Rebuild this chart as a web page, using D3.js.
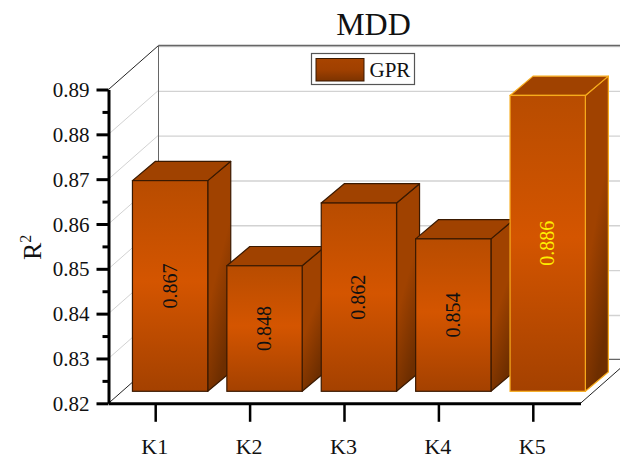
<!DOCTYPE html>
<html>
<head>
<meta charset="utf-8">
<script src="https://cdn.jsdelivr.net/npm/d3@7"></script>
<style>
  html, body { margin: 0; padding: 0; background: #fff; }
  svg { display: block; font-family: "Liberation Serif", serif; }
</style>
</head>
<body>
<svg id="chart" width="620" height="459"></svg>
<script>
// data
var categories = ["K1", "K2", "K3", "K4", "K5"];
var r2Values = [0.867, 0.848, 0.862, 0.854, 0.886];
var highlighted = ["K5"];
var majorTicks = [0.82, 0.83, 0.84, 0.85, 0.86, 0.87, 0.88, 0.89];
var minorTicks = [0.825, 0.835, 0.845, 0.855, 0.865, 0.875, 0.885];
var seriesName = "GPR";

var svg = d3.select("#chart");

var plotLeft = 108.5, plotRight = 580.5, plotBottom = 403.3, plotTop = 89.5;
var wallDx = 50, wallDy = -44;    // depth of the whole box
var barDx = 23, barDy = -19.3;    // depth of one bar
var barOffX = 14.4, barOffY = -12; // bars stand a bit inside the box
var barWidth = 75.3;

var x = d3.scaleBand().domain(categories).range([plotLeft, plotRight]);
var y = d3.scaleLinear().domain([0.82, 0.89]).range([plotBottom, plotTop]);

// gradients
var defs = svg.append("defs");

function gradient(id, x2, stops) {
  var g = defs.append("linearGradient").attr("id", id)
    .attr("x1", 0).attr("y1", 0).attr("x2", x2).attr("y2", 1);
  stops.forEach(function(s) {
    g.append("stop").attr("offset", s[0]).attr("stop-color", s[1]);
  });
}

gradient("front", 0, [[0, "#b84c00"], [0.48, "#d45500"], [1, "#a44100"]]);
gradient("side", 0.4, [[0, "#a04200"], [0.55, "#a04200"], [1, "#6e2e00"]]);
gradient("swatch", 0, [[0, "#a84400"], [0.5, "#a04000"], [1, "#7c3300"]]);

// walls and grid
var walls = svg.append("g");

majorTicks.forEach(function(t) {
  if (t === 0.82 || t === 0.89) return;
  walls.append("line")
    .attr("x1", plotLeft).attr("y1", y(t))
    .attr("x2", plotLeft + wallDx).attr("y2", y(t) + wallDy)
    .attr("stroke", "#d2d2d2").attr("stroke-width", 1);
});

walls.selectAll("line.back")
  .data(majorTicks.filter(function(t) { return t !== 0.82; }))
  .enter().append("line")
  .attr("class", "back")
  .attr("x1", plotLeft + wallDx).attr("y1", function(d) { return y(d) + wallDy + 1; })
  .attr("x2", 631).attr("y2", function(d) { return y(d) + wallDy + 1; })
  .attr("stroke", "#d2d2d2").attr("stroke-width", 1.4);

// box outline
var outline = [
  [plotLeft, plotTop, plotLeft + wallDx, plotTop + wallDy],
  [plotLeft + wallDx, plotTop + wallDy, 631, plotTop + wallDy],
  [plotLeft + wallDx, plotTop + wallDy, plotLeft + wallDx, plotBottom + wallDy],
  [plotLeft + wallDx, plotBottom + wallDy, 631, plotBottom + wallDy],
  [plotLeft, plotBottom, plotLeft + wallDx, plotBottom + wallDy],
  [plotRight, plotBottom, plotRight + wallDx, plotBottom + wallDy]
];
walls.selectAll("line.edge").data(outline).enter().append("line")
  .attr("class", "edge")
  .attr("x1", function(d) { return d[0]; }).attr("y1", function(d) { return d[1]; })
  .attr("x2", function(d) { return d[2]; }).attr("y2", function(d) { return d[3]; })
  .attr("stroke", function(d, i) { return (i === 1 || i === 2 || i === 3) ? "#666" : "#222"; })
  .attr("stroke-width", function(d, i) { return (i === 1 || i === 3) ? 1.3 : 1; });

// bars
var bars = svg.append("g").selectAll("g")
  .data(categories.map(function(c, i) { return { name: c, value: r2Values[i] }; }))
  .enter().append("g");

function strokeOf(d) {
  return highlighted.indexOf(d.name) >= 0 ? "#f7ac1c" : "#3a1900";
}
function barX(d) { return x(d.name) + x.bandwidth() / 2 + barOffX - barWidth / 2; }
function barTop(d) { return y(d.value) + barOffY; }
var barBase = y(0.82) + barOffY;

// side face
bars.append("path")
  .attr("d", function(d) {
    var r = barX(d) + barWidth, t = barTop(d);
    return "M" + r + "," + t + "L" + (r + barDx) + "," + (t + barDy) +
      "L" + (r + barDx) + "," + (barBase + barDy) + "L" + r + "," + barBase + "Z";
  })
  .attr("fill", "url(#side)").attr("stroke", strokeOf).attr("stroke-width", 1.2)
  .attr("stroke-linejoin", "round");

// top face
bars.append("path")
  .attr("d", function(d) {
    var l = barX(d), r = l + barWidth, t = barTop(d);
    return "M" + l + "," + t + "L" + (l + barDx) + "," + (t + barDy) +
      "L" + (r + barDx) + "," + (t + barDy) + "L" + r + "," + t + "Z";
  })
  .attr("fill", "#a04200").attr("stroke", strokeOf).attr("stroke-width", 1.2)
  .attr("stroke-linejoin", "round");

// front face
bars.append("rect")
  .attr("x", barX)
  .attr("y", barTop)
  .attr("width", barWidth)
  .attr("height", function(d) { return barBase - barTop(d); })
  .attr("fill", "url(#front)").attr("stroke", strokeOf).attr("stroke-width", 1.2);

// value labels
bars.append("text")
  .attr("transform", function(d) {
    return "translate(" + (barX(d) + barWidth / 2 + 6.5) + "," + ((barTop(d) + barBase) / 2) + ") rotate(-90)";
  })
  .attr("text-anchor", "middle")
  .attr("font-size", 20)
  .attr("fill", function(d) { return highlighted.indexOf(d.name) >= 0 ? "#ffee00" : "#111"; })
  .text(function(d) { return d.value.toFixed(3); });

// axes
var yAxis = svg.append("g").attr("transform", "translate(" + plotLeft + ",0)")
  .call(d3.axisLeft(y).tickValues(majorTicks).tickSize(12).tickSizeOuter(0).tickFormat(d3.format(".2f")));
yAxis.selectAll("text").attr("x", -19).attr("dy", "0.34em")
  .attr("font-family", "Liberation Serif").attr("font-size", 21).attr("fill", "#111");
yAxis.selectAll("line").attr("stroke", "#000").attr("stroke-width", 3);
yAxis.select(".domain").attr("stroke", "#000").attr("stroke-width", 3);

var yMinor = svg.append("g").attr("transform", "translate(" + plotLeft + ",0)")
  .call(d3.axisLeft(y).tickValues(minorTicks).tickSize(6).tickFormat(""));
yMinor.select(".domain").remove();
yMinor.selectAll("line").attr("stroke", "#000").attr("stroke-width", 3);

var xAxis = svg.append("g").attr("transform", "translate(0," + plotBottom + ")")
  .call(d3.axisBottom(x).tickSize(18.5).tickSizeOuter(0));
xAxis.selectAll("text").attr("x", -1).attr("y", 35).attr("dy", "0.71em")
  .attr("font-family", "Liberation Serif").attr("font-size", 22).attr("fill", "#111");
xAxis.selectAll("line").attr("stroke", "#000").attr("stroke-width", 2.5);
xAxis.select(".domain").attr("stroke", "#000").attr("stroke-width", 3);

// title
svg.append("text").attr("x", 373.5).attr("y", 35)
  .attr("text-anchor", "middle").attr("font-size", 32).attr("fill", "#111").text("MDD");

// y label with superscript
var yLabel = svg.append("text")
  .attr("transform", "translate(41,260) rotate(-90)")
  .attr("font-size", 26).attr("fill", "#111");
yLabel.append("tspan").text("R");
yLabel.append("tspan").attr("font-size", 16).attr("dy", -10).text("2");

// legend
var legend = svg.append("g");
legend.append("rect").attr("x", 311.5).attr("y", 53.5).attr("width", 103).attr("height", 31)
  .attr("fill", "#fff").attr("stroke", "#555").attr("stroke-width", 1.2);
legend.append("rect").attr("x", 316).attr("y", 58.5).attr("width", 48).attr("height", 22.5)
  .attr("fill", "url(#swatch)").attr("stroke", "#3a1900").attr("stroke-width", 1);
legend.append("text").attr("x", 369.5).attr("y", 76.5)
  .attr("font-size", 21).attr("fill", "#111").text(seriesName);
</script>
</body>
</html>
